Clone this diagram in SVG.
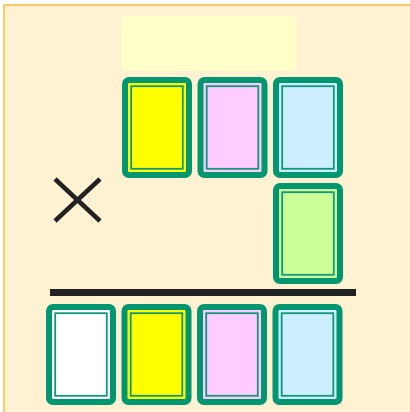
<svg xmlns="http://www.w3.org/2000/svg" width="410" height="412" viewBox="0 0 410 412">
<style>
.bg{fill:#FFF2D3;stroke:#FFC966;stroke-width:2}
.box{fill:#FFFFCC}
.out{stroke:#009670;stroke-width:6}
.in{fill:none;stroke:#12977a;stroke-width:1.8}
.mul{stroke:#222;stroke-width:4.5;stroke-linecap:butt}
.bar{fill:#222}
</style>
<rect class="bg" x="4" y="5" width="420" height="420"/>
<rect class="box" x="121" y="16" width="176" height="55" rx="4"/>
<g id="top-yellow" transform="translate(122,77)">
<rect class="out" x="3" y="3" width="64" height="95" rx="4" fill="#FFFF00"/>
<rect class="in" x="9.2" y="9.2" width="51.6" height="82.6"/>
</g>
<g id="top-pink" transform="translate(197.5,77)">
<rect class="out" x="3" y="3" width="64" height="95" rx="4" fill="#FFCCFF"/>
<rect class="in" x="9.2" y="9.2" width="51.6" height="82.6"/>
</g>
<g id="top-blue" transform="translate(273,77)">
<rect class="out" x="3" y="3" width="64" height="95" rx="4" fill="#CCEEFF"/>
<rect class="in" x="9.2" y="9.2" width="51.6" height="82.6"/>
</g>
<g id="mid-green" transform="translate(273,183)">
<rect class="out" x="3" y="3" width="64" height="95" rx="4" fill="#CCFF99"/>
<rect class="in" x="9.2" y="9.2" width="51.6" height="82.6"/>
</g>
<g id="times">
<line class="mul" x1="55" y1="179" x2="100" y2="221"/>
<line class="mul" x1="100" y1="179" x2="55" y2="221"/>
</g>
<g id="connectors">
<rect class="bar" x="50" y="289" width="306" height="7"/>
</g>
<g id="bot-white" transform="translate(46,304)">
<rect class="out" x="3" y="3" width="64" height="95" rx="4" fill="#FFFFFF"/>
<rect class="in" x="9.2" y="9.2" width="51.6" height="82.6"/>
</g>
<g id="bot-yellow" transform="translate(121.5,304)">
<rect class="out" x="3" y="3" width="64" height="95" rx="4" fill="#FFFF00"/>
<rect class="in" x="9.2" y="9.2" width="51.6" height="82.6"/>
</g>
<g id="bot-pink" transform="translate(197,304)">
<rect class="out" x="3" y="3" width="64" height="95" rx="4" fill="#FFCCFF"/>
<rect class="in" x="9.2" y="9.2" width="51.6" height="82.6"/>
</g>
<g id="bot-blue" transform="translate(272.5,304)">
<rect class="out" x="3" y="3" width="64" height="95" rx="4" fill="#CCEEFF"/>
<rect class="in" x="9.2" y="9.2" width="51.6" height="82.6"/>
</g>
</svg>
